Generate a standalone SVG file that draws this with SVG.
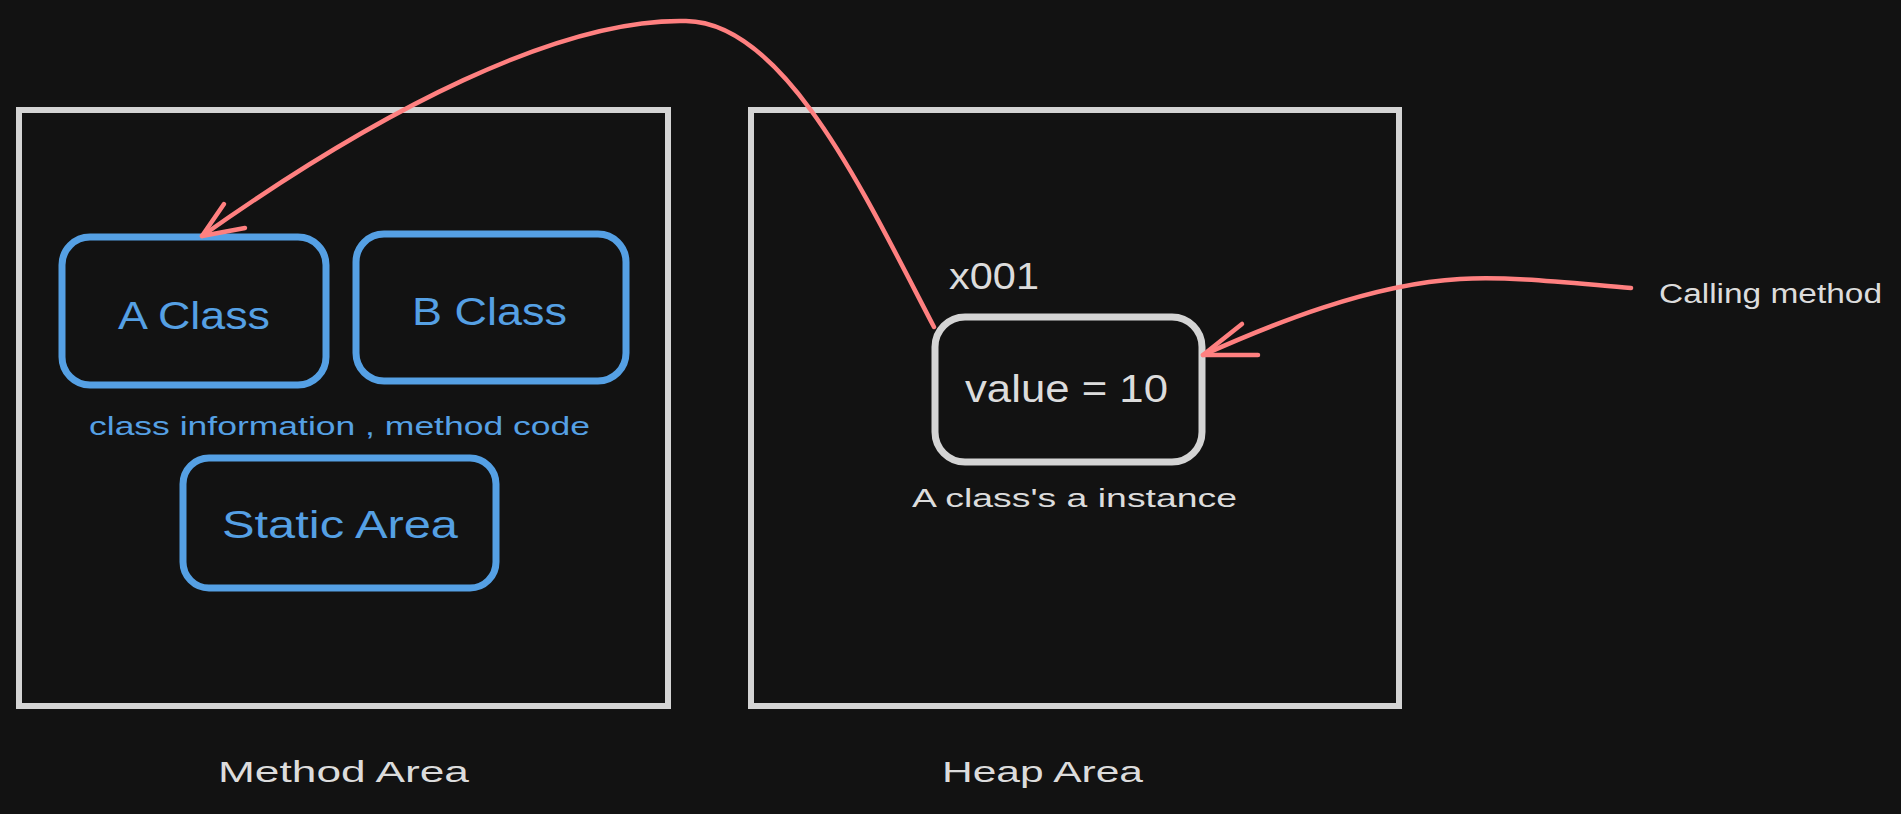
<svg xmlns="http://www.w3.org/2000/svg" width="1901" height="814" viewBox="0 0 1901 814">
<style>
.area{fill:none;stroke:#d4d4d4;stroke-width:6}
.blue{fill:none;stroke:#55a0e4;stroke-width:7}
.inst{fill:none;stroke:#d4d4d4;stroke-width:7}
.bt{fill:#55a0e4;font-family:"Liberation Sans",Arial,sans-serif}
.wt{fill:#dcdcdc;font-family:"Liberation Sans",Arial,sans-serif}
.conn{fill:none;stroke:#ff8080;stroke-width:4.5;stroke-linecap:round;stroke-linejoin:round}
</style>
<rect width="1901" height="814" fill="#121212"/>
<g id="method-area">
<rect class="area" x="19" y="110" width="649" height="596"/>
<text class="wt" x="218" y="782" font-size="30" textLength="251" lengthAdjust="spacingAndGlyphs">Method Area</text>
</g>
<g id="heap-area">
<rect class="area" x="751" y="110" width="648" height="596"/>
<text class="wt" x="942" y="782" font-size="30" textLength="201" lengthAdjust="spacingAndGlyphs">Heap Area</text>
</g>
<g id="a-class">
<rect class="blue" x="62" y="237" width="264" height="148" rx="28"/>
<text class="bt" x="118" y="329" font-size="38" textLength="152" lengthAdjust="spacingAndGlyphs">A Class</text>
</g>
<g id="b-class">
<rect class="blue" x="356" y="234" width="270" height="147" rx="28"/>
<text class="bt" x="412" y="325" font-size="38" textLength="155" lengthAdjust="spacingAndGlyphs">B Class</text>
</g>
<g id="class-info-label">
<text class="bt" x="89" y="435" font-size="26" textLength="501" lengthAdjust="spacingAndGlyphs">class information , method code</text>
</g>
<g id="static-area">
<rect class="blue" x="183" y="458" width="313" height="130" rx="26"/>
<text class="bt" x="222" y="538" font-size="38" textLength="236" lengthAdjust="spacingAndGlyphs">Static Area</text>
</g>
<g id="instance">
<text class="wt" x="949" y="289" font-size="36" textLength="90" lengthAdjust="spacingAndGlyphs">x001</text>
<rect class="inst" x="935" y="317" width="267" height="145" rx="30"/>
<text class="wt" x="965" y="402" font-size="38" textLength="203" lengthAdjust="spacingAndGlyphs">value = 10</text>
<text class="wt" x="912" y="507" font-size="26" textLength="325" lengthAdjust="spacingAndGlyphs">A class's a instance</text>
</g>
<g id="calling-method">
<text class="wt" x="1659" y="303" font-size="27" textLength="223" lengthAdjust="spacingAndGlyphs">Calling method</text>
</g>
<g id="connectors">
<path class="conn" d="M934,327 C865,195 785,22 686,21 C560,18 380,110 202,236"/>
<path class="conn" d="M224,204 L202,236 L245,228"/>
<path class="conn" d="M1631,288 C1570,283 1510,276 1460,279 C1370,284 1270,325 1203,355"/>
<path class="conn" d="M1242,324 L1203,355 L1258,355"/>
</g>
</svg>
